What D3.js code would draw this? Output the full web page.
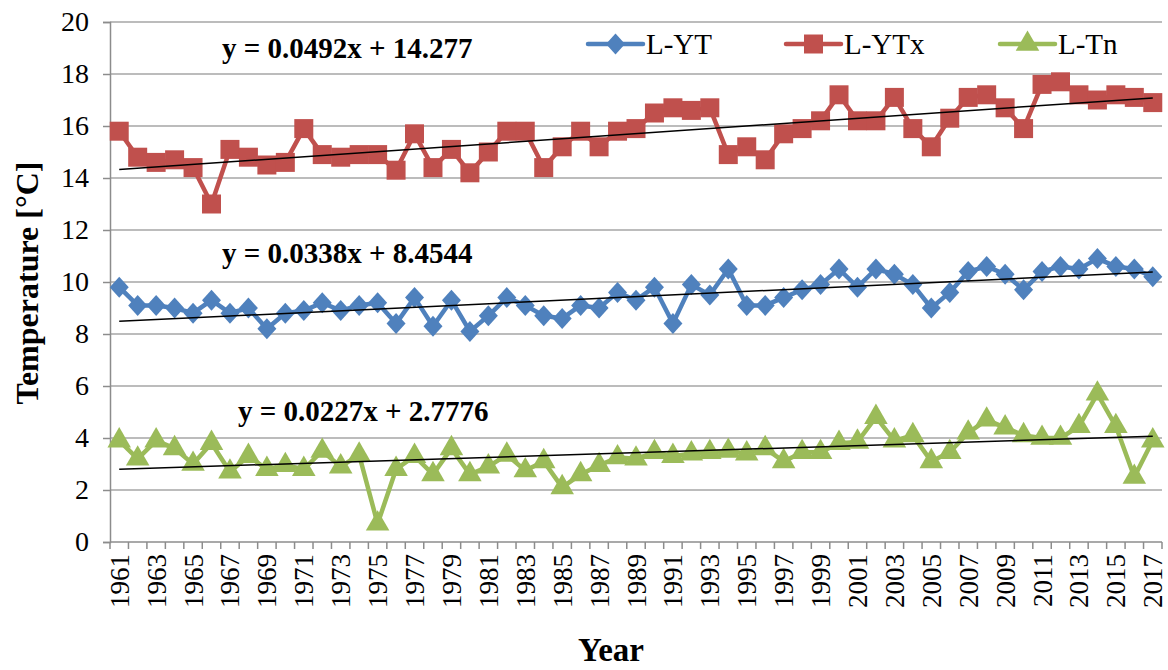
<!DOCTYPE html>
<html>
<head>
<meta charset="utf-8">
<script src="https://cdn.jsdelivr.net/npm/d3@7"></script>
<style>
  html, body { margin: 0; padding: 0; background: #fff; }
  svg { display: block; }
  svg text { font-family: "Liberation Serif", "Times New Roman", serif; fill: #000; }
</style>
</head>
<body>
<svg id="chart" width="1168" height="670"></svg>
<script>
// years on the category axis
const years = d3.range(1961, 2018);

// series values
const ytValues = [9.8, 9.1, 9.1, 9.0, 8.8, 9.3, 8.8, 9.0, 8.2, 8.8, 8.9, 9.2, 8.9, 9.1, 9.2, 8.4, 9.4, 8.3, 9.3, 8.1,
  8.7, 9.4, 9.1, 8.7, 8.6, 9.1, 9.0, 9.6, 9.3, 9.8, 8.4, 9.9, 9.5, 10.5, 9.1, 9.1, 9.4, 9.7, 9.9, 10.5,
  9.8, 10.5, 10.3, 9.9, 9.0, 9.6, 10.4, 10.6, 10.3, 9.7, 10.4, 10.6, 10.5, 10.9, 10.6, 10.5, 10.2];
const ytxValues = [15.8, 14.8, 14.6, 14.7, 14.4, 13.0, 15.1, 14.8, 14.5, 14.6, 15.9, 14.9, 14.8, 14.9, 14.9, 14.3, 15.7, 14.4, 15.1, 14.2,
  15.0, 15.8, 15.8, 14.4, 15.2, 15.8, 15.2, 15.8, 15.9, 16.5, 16.7, 16.6, 16.7, 14.9, 15.2, 14.7, 15.7, 15.9, 16.2, 17.2,
  16.2, 16.2, 17.1, 15.9, 15.2, 16.3, 17.1, 17.2, 16.7, 15.9, 17.6, 17.7, 17.2, 17.0, 17.2, 17.1, 16.9];
const tnValues = [3.9, 3.2, 3.9, 3.6, 3.0, 3.8, 2.7, 3.3, 2.8, 2.95, 2.8, 3.5, 2.9, 3.35, 0.7, 2.8, 3.3, 2.6, 3.6, 2.6,
  2.9, 3.35, 2.75, 3.1, 2.1, 2.6, 2.95, 3.25, 3.2, 3.45, 3.3, 3.4, 3.45, 3.5, 3.4, 3.6, 3.1, 3.45, 3.45, 3.8,
  3.85, 4.8, 3.9, 4.1, 3.1, 3.45, 4.2, 4.7, 4.4, 4.1, 4.0, 4.0, 4.45, 5.7, 4.45, 2.5, 3.9];

// linear trend coefficients (x = 1..57)
const trendSlopes = [0.0338, 0.0492, 0.0227];
const trendIntercepts = [8.4544, 14.277, 2.7776];
const trendLabels = ["y = 0.0338x + 8.4544", "y = 0.0492x + 14.277", "y = 0.0227x + 2.7776"];

const seriesNames = ["L-YT", "L-YTx", "L-Tn"];
const seriesColors = ["#4f81bd", "#c0504d", "#9bbb59"];
const yTicks = d3.range(0, 21, 2);

const svg = d3.select("#chart");
const plotLeft = 110, plotRight = 1162, plotTop = 22, plotBottom = 542;
const serif = "'Liberation Serif', 'Times New Roman', serif";

const x = d3.scaleBand().domain(years).range([plotLeft, plotRight]);
const y = d3.scaleLinear().domain([0, 20]).range([plotBottom, plotTop]);
const cx = d => x(d) + x.bandwidth() / 2;

// gridlines
svg.append("g")
  .selectAll("line")
  .data(yTicks.filter(t => t > 0))
  .join("line")
  .attr("x1", plotLeft).attr("x2", plotRight)
  .attr("y1", d => y(d)).attr("y2", d => y(d))
  .attr("stroke", "#a6a6a6").attr("stroke-width", 1.5);

// y axis
const yAxis = svg.append("g")
  .attr("transform", `translate(${plotLeft},0)`)
  .call(d3.axisLeft(y).tickValues(yTicks).tickSize(7).tickPadding(14));
yAxis.attr("font-family", serif).attr("font-size", 28);
yAxis.select(".domain").attr("stroke", "#8c8c8c").attr("stroke-width", 1.5);
yAxis.selectAll(".tick line").attr("stroke", "#8c8c8c").attr("stroke-width", 1.5);
yAxis.selectAll("text").attr("fill", "#000");

// x axis with ticks on category boundaries
const xAxisG = svg.append("g");
xAxisG.append("line")
  .attr("x1", plotLeft).attr("x2", plotRight).attr("y1", plotBottom).attr("y2", plotBottom)
  .attr("stroke", "#8c8c8c").attr("stroke-width", 1.5);
xAxisG.selectAll("line.tk")
  .data(years.concat([null]))
  .join("line")
  .attr("class", "tk")
  .attr("x1", (d, i) => plotLeft + i * x.step())
  .attr("x2", (d, i) => plotLeft + i * x.step())
  .attr("y1", plotBottom).attr("y2", plotBottom + 7)
  .attr("stroke", "#8c8c8c").attr("stroke-width", 1.5);
xAxisG.selectAll("text")
  .data(years.filter((d, i) => i % 2 === 0))
  .join("text")
  .attr("transform", d => `translate(${cx(d) + 9.5},${plotBottom + 12}) rotate(-90)`)
  .attr("text-anchor", "end")
  .attr("font-family", serif)
  .attr("font-size", 27)
  .text(d => d);

// axis titles
svg.append("text")
  .attr("transform", "translate(38,283) rotate(-90)")
  .attr("text-anchor", "middle")
  .attr("font-family", serif)
  .attr("font-size", 32).attr("font-weight", "bold")
  .text("Temperature [°C]");
svg.append("text")
  .attr("x", 611).attr("y", 661)
  .attr("text-anchor", "middle")
  .attr("font-family", serif)
  .attr("font-size", 33).attr("font-weight", "bold")
  .text("Year");

// marker shapes
const diamond = "M0,-10.5L9.5,0L0,10.5L-9.5,0Z";
const markerPath = [
  diamond,
  d3.symbol(d3.symbolSquare, 361)(),
  d3.symbol(d3.symbolTriangle, 240)()
];
const allValues = [ytValues, ytxValues, tnValues];

allValues.forEach((vals, s) => {
  const line = d3.line().x((d, i) => cx(years[i])).y(d => y(d));
  svg.append("path")
    .datum(vals)
    .attr("d", line)
    .attr("fill", "none")
    .attr("stroke", seriesColors[s])
    .attr("stroke-width", 4.5)
    .attr("stroke-linejoin", "round");
  svg.append("g")
    .selectAll("path")
    .data(vals)
    .join("path")
    .attr("d", markerPath[s])
    .attr("transform", (d, i) => `translate(${cx(years[i])},${y(d)})`)
    .attr("fill", seriesColors[s]);
});

// trend lines
trendSlopes.forEach((m, s) => {
  const xs = [1, years.length];
  svg.append("line")
    .attr("x1", cx(years[0])).attr("x2", cx(years[years.length - 1]))
    .attr("y1", y(m * xs[0] + trendIntercepts[s]))
    .attr("y2", y(m * xs[1] + trendIntercepts[s]))
    .attr("stroke", "#000").attr("stroke-width", 1.5);
});

// trend equation labels
const labelPos = [[222, 263], [222, 58], [238, 421]];
trendLabels.forEach((t, s) => {
  svg.append("text")
    .attr("x", labelPos[s][0]).attr("y", labelPos[s][1])
    .attr("font-family", serif)
    .attr("font-size", 29).attr("font-weight", "bold")
    .text(t);
});

// legend
const legendX = [588, 786, 1000];
seriesNames.forEach((n, s) => {
  const g = svg.append("g").attr("transform", `translate(${legendX[s]},44)`);
  g.append("line").attr("x1", 0).attr("x2", 55).attr("y1", 0).attr("y2", 0)
    .attr("stroke", seriesColors[s]).attr("stroke-width", 4.5).attr("stroke-linecap", "round");
  g.append("path").attr("d", markerPath[s])
    .attr("transform", "translate(27.5,0)")
    .attr("fill", seriesColors[s]);
  g.append("text").attr("x", 58).attr("y", 10)
    .attr("font-family", serif)
    .attr("font-size", 29).text(n);
});
</script>
</body>
</html>
